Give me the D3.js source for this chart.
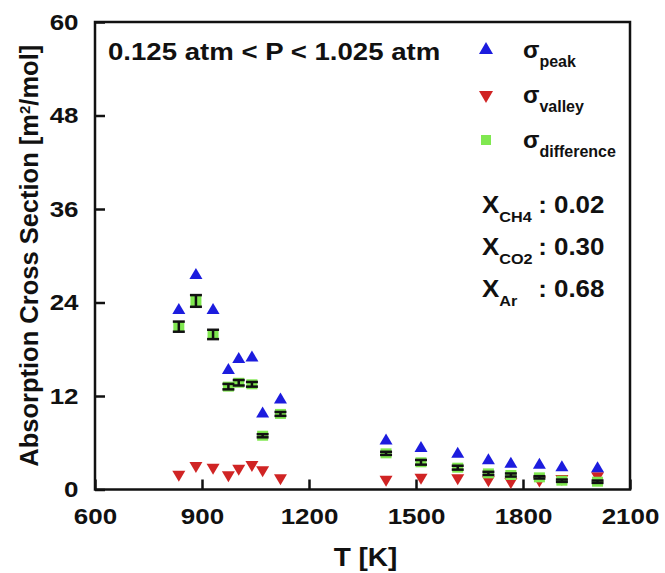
<!DOCTYPE html>
<html>
<head>
<meta charset="utf-8">
<script src="https://cdn.jsdelivr.net/npm/d3@7"></script>
<style>
  body { margin: 0; background: #fff; }
  text { font-family: "Liberation Sans", Arial, sans-serif; font-weight: bold; fill: #111; }
</style>
</head>
<body>
<div id="chart"></div>
<script>
// values
const temps = [835, 883, 931, 974, 1003, 1040, 1070, 1120, 1416, 1514, 1617, 1703, 1766, 1846, 1909, 2009]
const sigmaPeak = [23.0, 27.5, 23.0, 15.3, 16.7, 16.9, 9.7, 11.5, 6.26, 5.28, 4.55, 3.7, 3.27, 3.14, 2.8, 2.7]
const sigmaValley = [1.95, 3.05, 2.85, 1.86, 2.7, 3.2, 2.5, 1.5, 1.3, 1.56, 1.5, 1.22, 1.0, 1.2, 1.4, 1.75]
const sigmaDiff = [20.9, 24.2, 19.9, 13.2, 13.7, 13.5, 6.9, 9.7, 4.64, 3.49, 2.8, 2.07, 1.86, 1.56, 1.13, 1.0]
const sigmaDiffErr = [0.65, 0.75, 0.6, 0.35, 0.35, 0.3, 0.2, 0.25, 0.2, 0.3, 0.25, 0.2, 0.2, 0.15, 0.15, 0.15]

const xTicks = [600, 900, 1200, 1500, 1800, 2100]
const yTicks = [0, 12, 24, 36, 48, 60]

const legendItems = [
    { name: 'peak', shape: 'up', color: '#1c1cde' },
    { name: 'valley', shape: 'down', color: '#d02424' },
    { name: 'difference', shape: 'square', color: '#80e850' }
]
const moleFractions = [
    { species: 'CH4', value: '0.02' },
    { species: 'CO2', value: '0.30' },
    { species: 'Ar', value: '0.68' }
]

const WIDTH = 665
const HEIGHT = 573
const margin = { left: 95, top: 22, right: 35, bottom: 83.5 }
// the figure's lettering is a little wider than plain Arial Bold
const STRETCH = 1.18

const svg = d3.select('#chart')
    .append('svg')
    .attr('width', WIDTH)
    .attr('height', HEIGHT)

const xscale = d3.scaleLinear()
    .domain([600, 2100])
    .range([margin.left, WIDTH - margin.right])
const yscale = d3.scaleLinear()
    .domain([0, 60])
    .range([HEIGHT - margin.bottom, margin.top])

const data = temps.map((t, i) => ({
    t, peak: sigmaPeak[i], valley: sigmaValley[i], diff: sigmaDiff[i], err: sigmaDiffErr[i]
}))

// triangle centred on its centroid
function triangle(cx, cy, w, h, up) {
    const s = up ? 1 : -1
    return `M${cx - w / 2},${cy + s * h / 3}L${cx + w / 2},${cy + s * h / 3}L${cx},${cy - s * 2 * h / 3}Z`
}

// axes, ticks pointing inward
const xAxis = svg.append('g')
    .attr('transform', `translate(0,${yscale(0)})`)
    .call(d3.axisBottom(xscale).tickValues(xTicks).tickSize(-10).tickPadding(19).tickFormat(d3.format('d')))
const yAxis = svg.append('g')
    .attr('transform', `translate(${xscale(600)},0)`)
    .call(d3.axisLeft(yscale).tickValues(yTicks).tickSize(-10).tickPadding(14))

;[xAxis, yAxis].forEach(ax => {
    ax.select('.domain').remove()
    ax.selectAll('.tick line').style('stroke', '#111').style('stroke-width', 2.5)
    ax.selectAll('.tick text')
        .style('font-size', '22px')
        .style('font-family', '"Liberation Sans", Arial, sans-serif')
        .style('font-weight', 'bold')
        .attr('fill', '#111')
        .attr('transform', `scale(${STRETCH},1)`)
})

// frame
svg.append('rect')
    .attr('x', xscale(600))
    .attr('y', yscale(60))
    .attr('width', xscale(2100) - xscale(600))
    .attr('height', yscale(0) - yscale(60))
    .style('fill', 'none')
    .style('stroke', '#111')
    .style('stroke-width', 2.5)

// axis titles
svg.append('text')
    .attr('transform', `translate(${(xscale(600) + xscale(2100)) / 2 + 3},566) scale(1.12,1)`)
    .style('text-anchor', 'middle')
    .style('font-size', '25px')
    .text('T [K]')

const yTitle = svg.append('text')
    .attr('transform', `translate(38,${(yscale(0) + yscale(60)) / 2}) rotate(-90)`)
    .style('text-anchor', 'middle')
    .style('font-size', '25.5px')
yTitle.append('tspan').text('Absorption Cross Section [m')
yTitle.append('tspan').attr('baseline-shift', 'super').style('font-size', '15px').text('2')
yTitle.append('tspan').text('/mol]')

// markers
const plot = svg.append('g')

plot.selectAll('.valley')
    .data(data)
    .enter()
    .append('path')
    .attr('class', 'valley')
    .attr('d', d => triangle(xscale(d.t), yscale(d.valley), 13, 11, false))
    .style('fill', legendItems[1].color)

plot.selectAll('.peak')
    .data(data)
    .enter()
    .append('path')
    .attr('class', 'peak')
    .attr('d', d => triangle(xscale(d.t), yscale(d.peak), 13, 11, true))
    .style('fill', legendItems[0].color)

plot.selectAll('.diff')
    .data(data)
    .enter()
    .append('rect')
    .attr('class', 'diff')
    .attr('x', d => xscale(d.t) - 5.5)
    .attr('y', d => yscale(d.diff) - 5)
    .attr('width', 11)
    .attr('height', 10)
    .style('fill', legendItems[2].color)

const bar = plot.selectAll('.errbar')
    .data(data)
    .enter()
    .append('g')
    .attr('class', 'errbar')
    .style('stroke', '#111')
    .style('stroke-width', 2.5)

bar.append('line')
    .attr('x1', d => xscale(d.t))
    .attr('x2', d => xscale(d.t))
    .attr('y1', d => yscale(d.diff - d.err))
    .attr('y2', d => yscale(d.diff + d.err))
bar.append('line')
    .attr('x1', d => xscale(d.t) - 6)
    .attr('x2', d => xscale(d.t) + 6)
    .attr('y1', d => yscale(d.diff - d.err))
    .attr('y2', d => yscale(d.diff - d.err))
bar.append('line')
    .attr('x1', d => xscale(d.t) - 6)
    .attr('x2', d => xscale(d.t) + 6)
    .attr('y1', d => yscale(d.diff + d.err))
    .attr('y2', d => yscale(d.diff + d.err))

// pressure range note
svg.append('text')
    .attr('transform', `translate(108,60) scale(1.2,1)`)
    .style('font-size', '23px')
    .text('0.125 atm < P < 1.025 atm')

// legend
const legend = svg.append('g')
    .selectAll('.legend-item')
    .data(legendItems)
    .enter()
    .append('g')
    .attr('class', 'legend-item')
    .attr('transform', (d, i) => `translate(486,${50 + i * 45})`)

legend.append('path')
    .attr('d', d => {
        if (d.shape === 'up') return triangle(0, 0, 14, 12, true)
        if (d.shape === 'down') return triangle(0, 0, 14, 12, false)
        return 'M-5,-5H5V5H-5Z'
    })
    .style('fill', d => d.color)

const legendText = legend.append('text')
    .attr('x', 37)
    .attr('y', 8)
legendText.append('tspan')
    .style('font-size', '24px')
    .text('σ')
legendText.append('tspan')
    .attr('dy', 9)
    .style('font-size', '16px')
    .text(d => d.name)

// mole fractions
const mf = svg.append('g')
    .selectAll('.mole')
    .data(moleFractions)
    .enter()
    .append('g')
    .attr('class', 'mole')
    .attr('transform', (d, i) => `translate(482,${213 + i * 42}) scale(1.08,1)`)

const mfLabel = mf.append('text')
    .style('font-size', '24px')
mfLabel.append('tspan').text('X')
mfLabel.append('tspan')
    .attr('dy', 9)
    .style('font-size', '15px')
    .text(d => d.species)
mf.append('text')
    .attr('x', 52)
    .style('font-size', '24px')
    .text(d => ': ' + d.value)
</script>
</body>
</html>
